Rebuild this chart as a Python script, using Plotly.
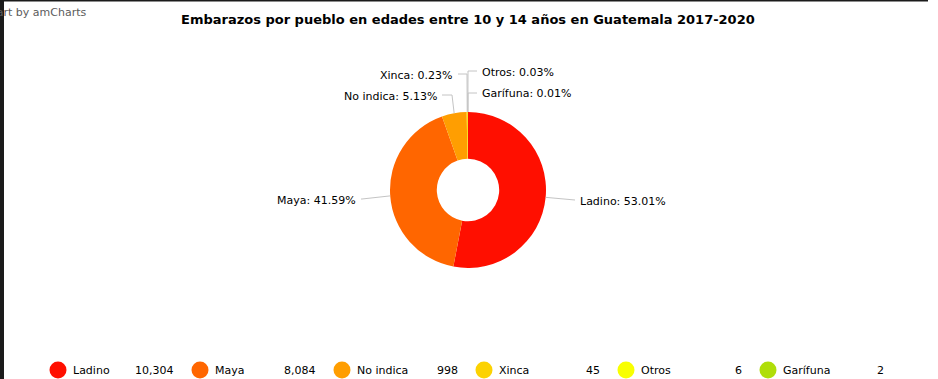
import math
import plotly.graph_objects as go

# ---------------- data ----------------
categories = ["Ladino", "Maya", "No indica", "Xinca", "Otros", "Garífuna"]
values = [10304, 8084, 998, 45, 6, 2]
colors = ["#FF0F00", "#FF6600", "#FF9E01", "#FCD202", "#F8FF01", "#B0DE09"]
title_text = "Embarazos por pueblo en edades entre 10 y 14 años en Guatemala 2017-2020"

# ---------------- layout config (pixels) ----------------
W, H = 938, 379
CX, CY, R = 468, 190, 78
HOLE = 0.40
FONT = "DejaVu Sans, Verdana, sans-serif"
# label placement: text x, text y, elbow x, side
label_layout = {
    "Ladino":   (578, 201, 575, "right"),
    "Maya":     (358, 200, 362, "left"),
    "No indica": (439, 96, 452, "left"),
    "Xinca":    (455, 75, 467, "left"),
    "Otros":    (480, 72, 468, "right"),
    "Garífuna": (480, 94, 468, "right"),
}
LEG_Y = 370
LEG_X0, LEG_STEP = 58, 142


def px(x):
    return x / W


def py(y):
    return 1 - y / H


total = sum(values)
fig = go.Figure()

fig.add_trace(go.Pie(
    labels=categories, values=values, hole=HOLE, sort=False,
    direction="clockwise", rotation=0,
    textinfo="none", textposition="none",
    marker=dict(colors=colors, line=dict(color="white", width=0)),
    domain=dict(x=[px(CX - R), px(CX + R)], y=[py(CY + R), py(CY - R)]),
    showlegend=False,
    hovertemplate="%{label}: %{percent}<extra></extra>",
))

# legend built from categories via an x axis scale
x0 = -LEG_X0 / LEG_STEP
fig.add_trace(go.Scatter(
    x=list(range(len(categories))), y=[0] * len(categories),
    mode="markers", marker=dict(size=17, color=colors, line=dict(width=0)),
    showlegend=False, hoverinfo="skip", xaxis="x", yaxis="y",
))

annotations = []
shapes = []
for i, (cat, v) in enumerate(zip(categories, values)):
    annotations.append(dict(x=i, y=0, xref="x", yref="y", text=cat, showarrow=False,
                            xanchor="left", yanchor="middle", xshift=13,
                            font=dict(family=FONT, size=11, color="#000")))
    annotations.append(dict(x=i, y=0, xref="x", yref="y", text=f"{v:,}", showarrow=False,
                            xanchor="right", yanchor="middle", xshift=118,
                            font=dict(family=FONT, size=11, color="#000")))

# slice labels + leader lines
cum = 0.0
for cat, v in zip(categories, values):
    frac = v / total
    mid = (cum + frac / 2) * 2 * math.pi
    cum += frac
    ex, ey = CX + R * math.sin(mid), CY - R * math.cos(mid)
    tx, ty, elx, side = label_layout[cat]
    pct = frac * 100
    annotations.append(dict(x=px(tx), y=py(ty), xref="paper", yref="paper",
                            text=f"{cat}: {pct:.2f}%", showarrow=False,
                            xanchor="left" if side == "right" else "right",
                            yanchor="middle",
                            font=dict(family=FONT, size=11, color="#000")))
    endx = tx - 3 if side == "right" else tx + 3
    ly = ty - 1
    path = f"M {px(ex)} {py(ey)} L {px(elx)} {py(ly)} L {px(endx)} {py(ly)}"
    shapes.append(dict(type="path", path=path, xref="paper", yref="paper",
                       line=dict(color="#c4c4c4", width=1), layer="above"))

# title & watermark
annotations.append(dict(x=px(468), y=py(20), xref="paper", yref="paper",
                        text=f"<b>{title_text}</b>", showarrow=False,
                        xanchor="center", yanchor="middle",
                        font=dict(family=FONT, size=13, color="#000")))
annotations.append(dict(x=px(88), y=py(12), xref="paper", yref="paper",
                        text="JS chart by amCharts", showarrow=False,
                        xanchor="right", yanchor="middle",
                        font=dict(family=FONT, size=11, color="#5c5c5c")))

# frame edges from the screenshot
shapes.append(dict(type="rect", xref="paper", yref="paper", x0=0, x1=px(4), y0=0, y1=1,
                   fillcolor="#1b1b1b", line=dict(width=0), layer="above"))
shapes.append(dict(type="rect", xref="paper", yref="paper", x0=0, x1=px(928), y0=py(1.5), y1=1,
                   fillcolor="#1b1b1b", line=dict(width=0), layer="above"))

fig.update_layout(
    width=W, height=H, autosize=False,
    margin=dict(l=0, r=0, t=0, b=0, pad=0),
    paper_bgcolor="white", plot_bgcolor="rgba(0,0,0,0)",
    xaxis=dict(visible=False, range=[x0, x0 + W / LEG_STEP], domain=[0, 1], fixedrange=True),
    yaxis=dict(visible=False, range=[-(H - LEG_Y) / H, 1 - (H - LEG_Y) / H], domain=[0, 1], fixedrange=True),
    annotations=annotations, shapes=shapes,
    showlegend=False,
)

fig.write_html(
    "out.html",
    config={"displayModeBar": False},
    post_script="document.body.style.margin='0';document.body.style.overflow='hidden';",
)
